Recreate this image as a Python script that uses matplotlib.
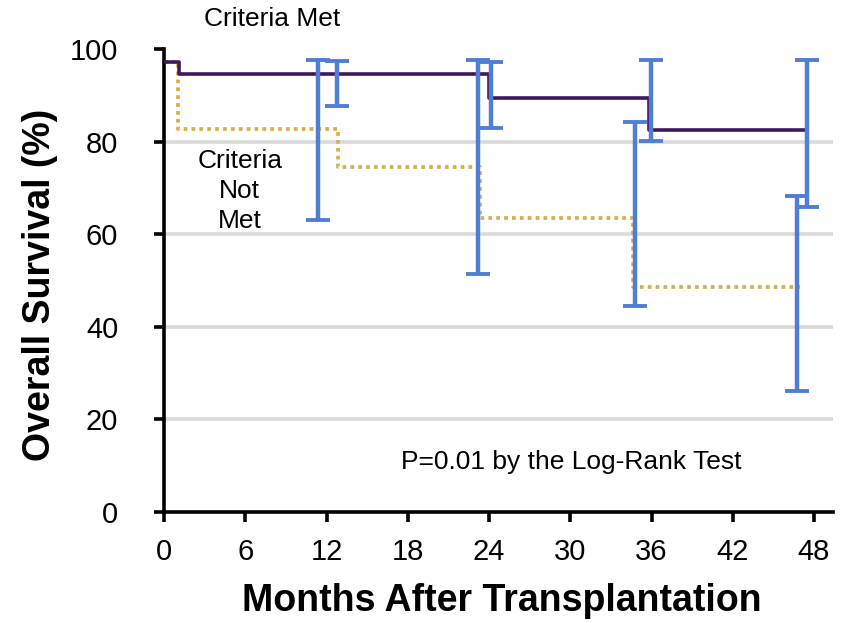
import matplotlib
matplotlib.use("Agg")
import matplotlib.pyplot as plt

plt.rcParams['font.family'] = ['Liberation Sans', 'DejaVu Sans']

# Kaplan-Meier step data (months, overall survival %)
met_times = [0, 1.1, 24.0, 35.8, 47.5]
met_surv = [97.3, 94.5, 89.4, 82.6, 82.6]

not_met_times = [0, 1.0, 12.85, 23.3, 34.6, 47.0]
not_met_surv = [97.3, 82.8, 74.5, 63.5, 48.6, 48.6]

# confidence interval bars (month, lower %, upper %)
ci_months = [11.37, 12.78, 23.19, 24.15, 34.79, 35.97, 46.75, 47.49]
ci_lower = [63.1, 87.7, 51.4, 82.9, 44.5, 80.1, 26.1, 65.9]
ci_upper = [97.6, 97.4, 97.6, 97.2, 84.2, 97.6, 68.3, 97.6]

x_ticks = [0, 6, 12, 18, 24, 30, 36, 42, 48]
y_ticks = [0, 20, 40, 60, 80, 100]

PURPLE = '#3d1a5c'
GOLD = '#d9ae4c'
BLUE = '#4f7fd4'
GRID = '#d9d9d9'

fig = plt.figure(figsize=(8.44, 6.23), dpi=100)
ax = fig.add_axes([164/844, 1 - 512/623, 669/844, 463/623])

ax.set_xlim(0, 49.4)
ax.set_ylim(0, 100)

# light horizontal gridlines, not at the axis ends
ax.hlines(y_ticks[1:-1], 0, 49.4, colors=GRID, linewidth=2.6, zorder=0)

ax.step(not_met_times, not_met_surv, where='post', color=GOLD, linewidth=2.7,
        linestyle=(0, (1.0, 1.1)), dash_capstyle='butt', zorder=2)
ax.step(met_times, met_surv, where='post', color=PURPLE, linewidth=2.6, zorder=3)

mid = [(lo + hi) / 2 for lo, hi in zip(ci_lower, ci_upper)]
err = [[m - lo for m, lo in zip(mid, ci_lower)],
       [hi - m for m, hi in zip(mid, ci_upper)]]
ax.errorbar(ci_months, mid, yerr=err, fmt='none', ecolor=BLUE, elinewidth=3.2,
            capsize=8.5, capthick=2.8, zorder=4)

for side in ['top', 'right']:
    ax.spines[side].set_visible(False)
for side in ['left', 'bottom']:
    ax.spines[side].set_linewidth(2.6)
    ax.spines[side].set_color('black')

ax.set_xticks(x_ticks)
ax.set_yticks(y_ticks)
ax.tick_params(axis='both', direction='out', length=7, width=2.6, labelsize=21)
ax.tick_params(axis='x', pad=12)
ax.tick_params(axis='y', pad=26)

ax.text(8.0, 106.5, 'Criteria Met', fontsize=19, ha='center', va='center')
ax.text(5.6, 69.3, 'Criteria\nNot\nMet', fontsize=19, ha='center', va='center',
        linespacing=1.3)
ax.text(17.5, 10.8, 'P=0.01 by the Log-Rank Test', fontsize=19, ha='left', va='center')

fig.text(40/844, 1 - 285/623, 'Overall Survival (%)', rotation=90, fontsize=27,
         fontweight='bold', ha='center', va='center')
fig.text(502/844, 1 - 601/623, 'Months After Transplantation', fontsize=27,
         fontweight='bold', ha='center', va='center')

fig.savefig('out.png', dpi=100)
